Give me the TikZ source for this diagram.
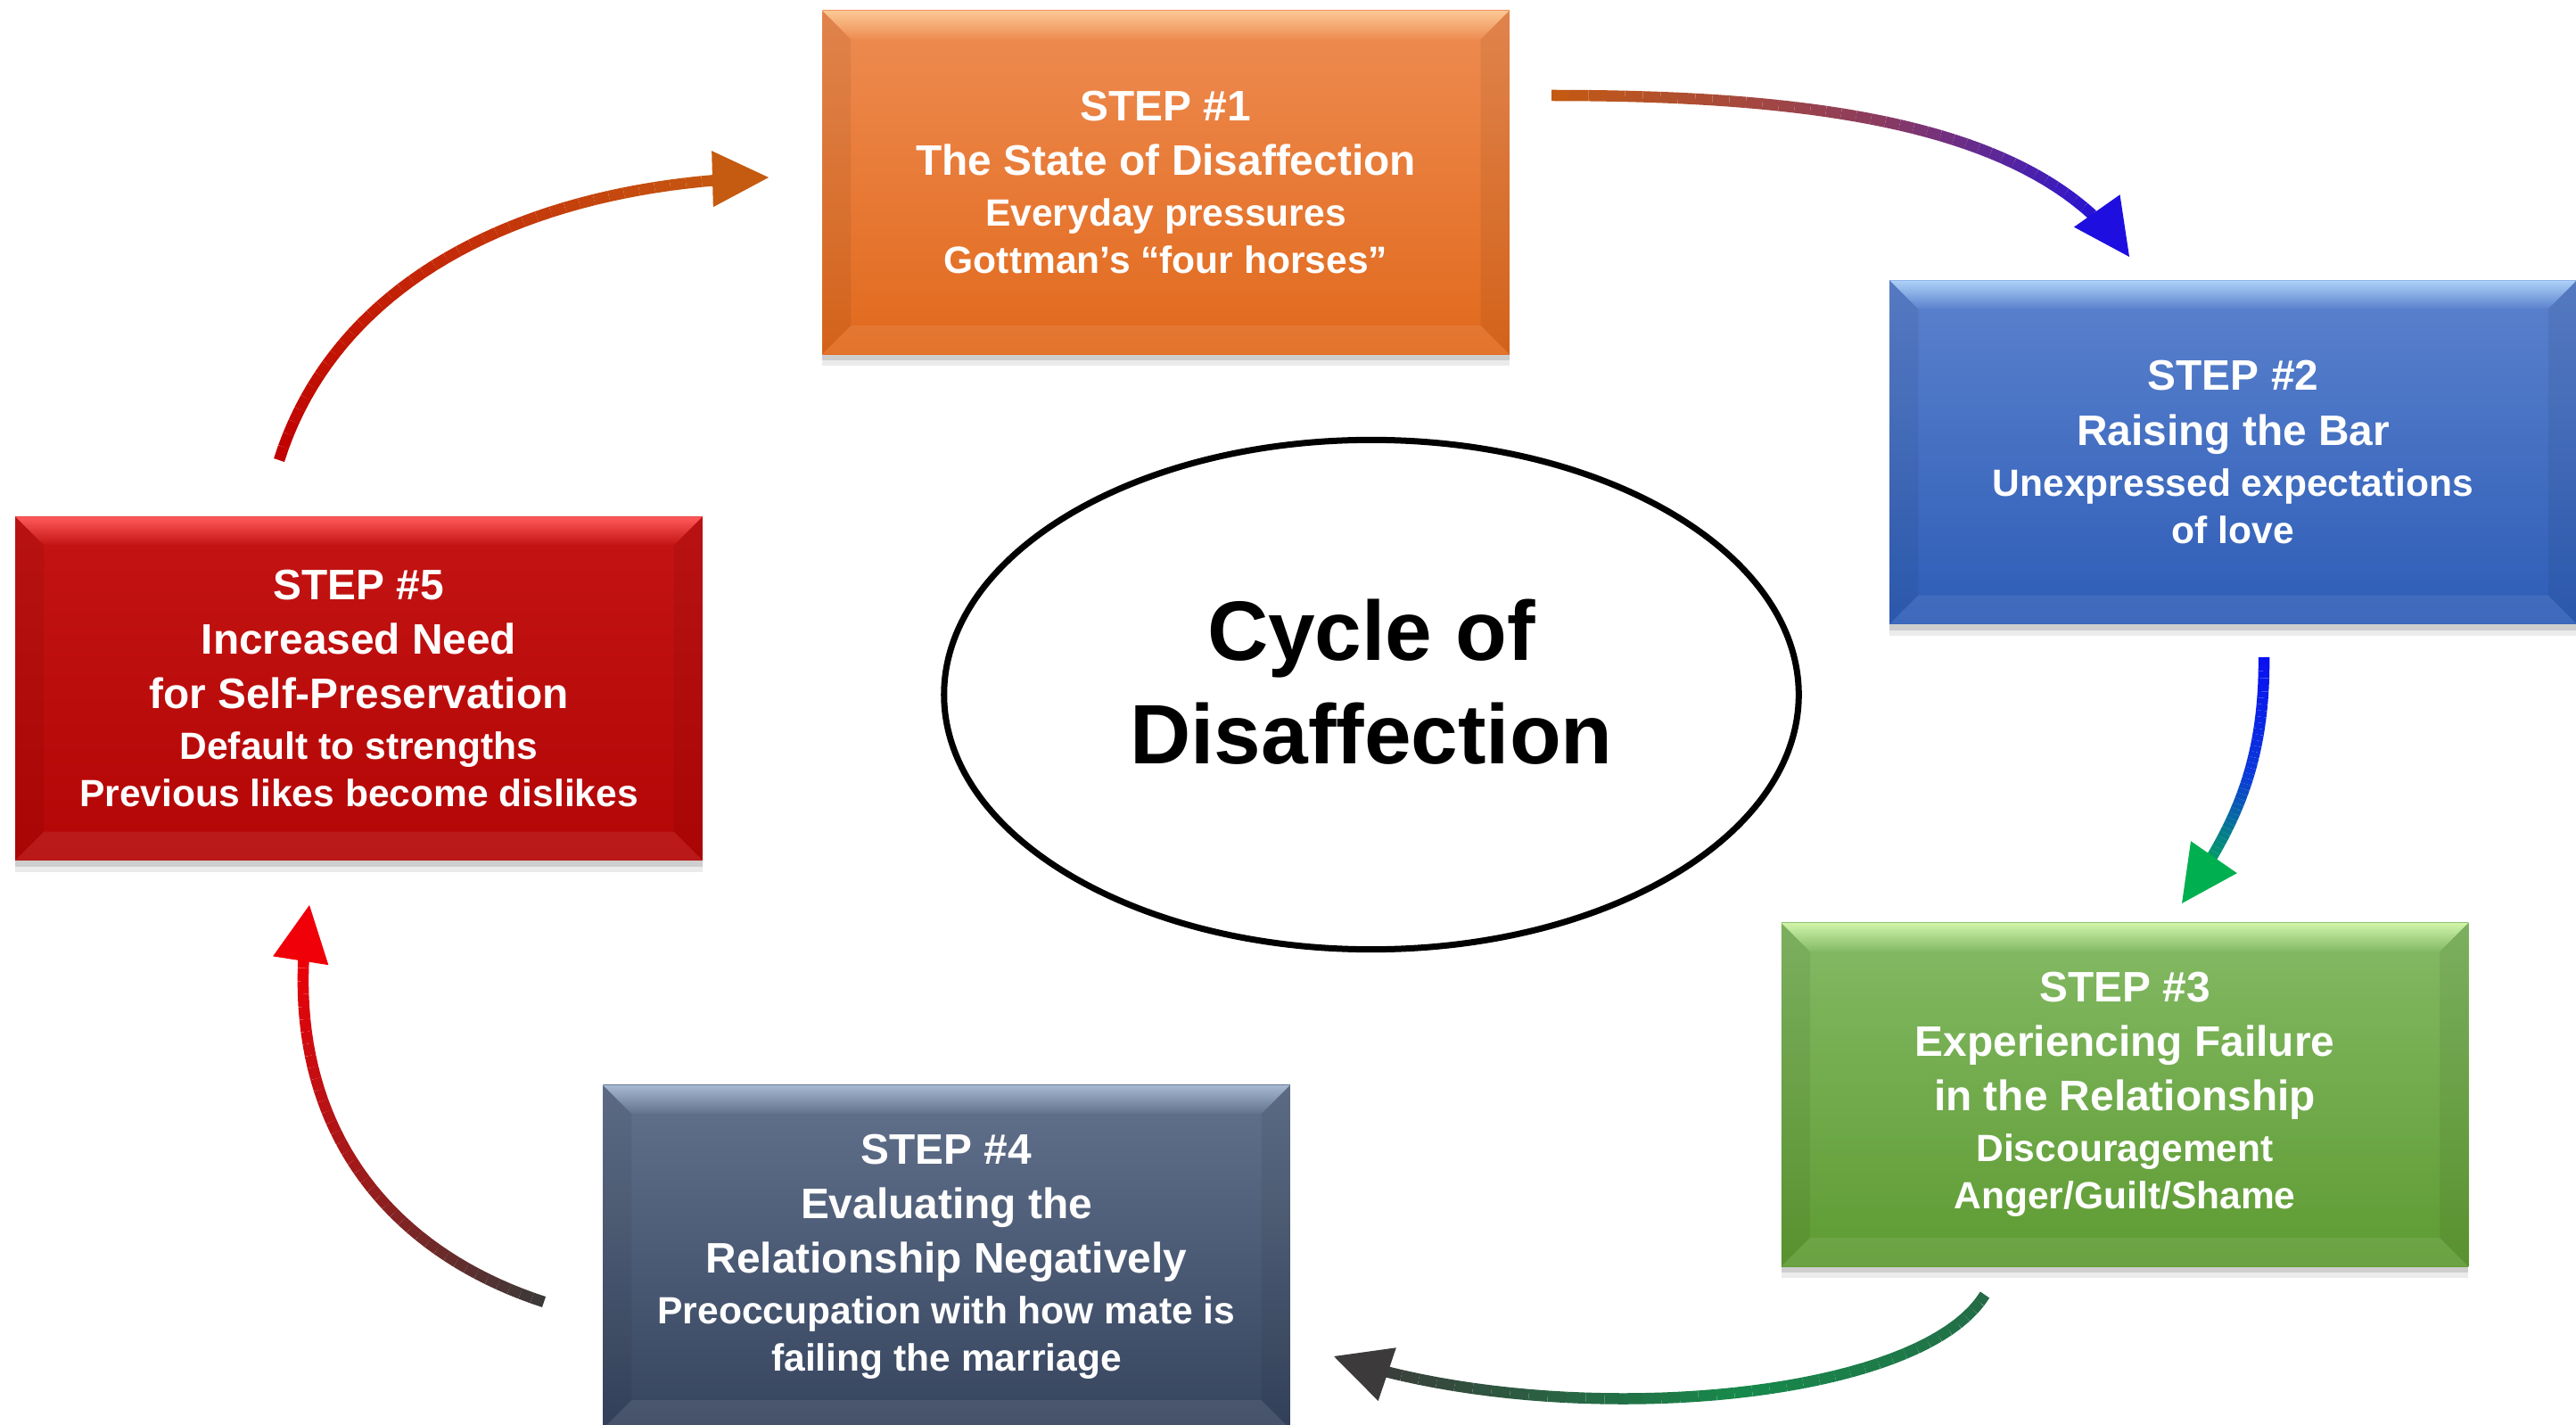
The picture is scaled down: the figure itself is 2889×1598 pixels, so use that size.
\documentclass[tikz,border=0pt]{standalone}
\usepackage{fontspec}
\setmainfont{Liberation Sans}
\usetikzlibrary{arrows.meta,shapes.geometric,calc}

\newcommand{\fsL}{\fontsize{13.6pt}{17.4pt}\selectfont}
\newcommand{\fsS}{\fontsize{12.1pt}{17.4pt}\selectfont}

\definecolor{oT}{HTML}{EE8C52}\definecolor{oB}{HTML}{E1691C}\definecolor{oH}{HTML}{FBC894}
\definecolor{bT}{HTML}{5B82CD}\definecolor{bB}{HTML}{2E5DB7}\definecolor{bH}{HTML}{AED2F8}
\definecolor{gT}{HTML}{84BA65}\definecolor{gB0}{HTML}{5E9B32}\definecolor{gH}{HTML}{D0F4AA}
\definecolor{sT}{HTML}{62728C}\definecolor{sB}{HTML}{36445E}\definecolor{sH}{HTML}{A6B8D2}
\definecolor{rT}{HTML}{C41414}\definecolor{rB}{HTML}{B40606}\definecolor{rH}{HTML}{FF5A5A}

\tikzset{
  bevelbox/.style={rectangle, minimum width=7.70cm, minimum height=3.85cm,
    inner sep=0pt, outer sep=0pt, align=center, text=white,
    font=\bfseries\fsL, fill=bxB,
    preaction={fill=black, opacity=0.08, transform canvas={yshift=-0.13cm}},
    preaction={fill=black, opacity=0.12, transform canvas={yshift=-0.07cm}},
    path picture={
      \path (path picture bounding box.south west) coordinate (bsw)
            (path picture bounding box.north east) coordinate (bne)
            (path picture bounding box.north west) coordinate (bnw)
            (path picture bounding box.south east) coordinate (bse);
      \shade[top color=bxT, bottom color=bxB] (bsw) rectangle (bne);
      \fill[black, opacity=0.06] (bnw) -- ([xshift=0.32cm,yshift=-0.32cm]bnw)
           -- ([xshift=0.32cm,yshift=0.32cm]bsw) -- (bsw) -- cycle;
      \fill[black, opacity=0.06] (bne) -- (bse) -- ([xshift=-0.32cm,yshift=0.32cm]bse)
           -- ([xshift=-0.32cm,yshift=-0.32cm]bne) -- cycle;
      \shade[top color=bxH, bottom color=bxT] (bnw) -- (bne)
           -- ([xshift=-0.32cm,yshift=-0.32cm]bne) -- ([xshift=0.32cm,yshift=-0.32cm]bnw) -- cycle;
      \fill[white, opacity=0.08] (bsw) -- ([xshift=0.32cm,yshift=0.32cm]bsw)
           -- ([xshift=-0.32cm,yshift=0.32cm]bse) -- (bse) -- cycle;
    }},
  orangebox/.style={/utils/exec={\colorlet{bxT}{oT}\colorlet{bxB}{oB}\colorlet{bxH}{oH}}, bevelbox},
  bluebox/.style={/utils/exec={\colorlet{bxT}{bT}\colorlet{bxB}{bB}\colorlet{bxH}{bH}}, bevelbox},
  greenbox/.style={/utils/exec={\colorlet{bxT}{gT}\colorlet{bxB}{gB0}\colorlet{bxH}{gH}}, bevelbox},
  slatebox/.style={/utils/exec={\colorlet{bxT}{sT}\colorlet{bxB}{sB}\colorlet{bxH}{sH}}, bevelbox},
  redbox/.style={/utils/exec={\colorlet{bxT}{rT}\colorlet{bxB}{rB}\colorlet{bxH}{rH}}, bevelbox},
  segline/.style={line width=0.125cm},
}

% gradient arrow along a Bezier: #1..#4 coordinate names, #5 parameter where the line stops (inside the head)
\newcommand{\gradarrow}[5]{%
  \foreach \k in {1,...,40}{%
    \pgfmathsetmacro\ta{#5*(\k-1)/40}%
    \pgfmathsetmacro\tb{#5*\k/40}%
    \pgfmathtruncatemacro\pc{round(200*(\k-0.5)/40)}%
    \ifnum\pc<100 \colorlet{gc}{gM!\pc!gA}\else\pgfmathtruncatemacro\pd{\pc-100}\colorlet{gc}{gB!\pd!gM}\fi
    \path (#1) .. controls (#2) and (#3) .. (#4) coordinate[pos=\ta] (gq) coordinate[pos=\tb] (gr);
    \draw[segline, gc] (gq) -- (gr);
  }%
  \path (#1) .. controls (#2) and (#3) .. (#4) coordinate[pos=0.99] (gw);
  \path ($(#4)!0.63cm!(gw)$) coordinate (gbase);
  \fill[gB] (#4) -- ($(gbase)!0.315cm!90:(#4)$) -- ($(gbase)!0.315cm!-90:(#4)$) -- cycle;
}

\begin{document}
\begin{tikzpicture}[x=0.01cm, y=-0.01cm]
\useasboundingbox (0,0) rectangle (2889,1598);
\clip (0,0) rectangle (2889,1598);
\fill[white] (0,0) rectangle (2889,1598);

% step boxes
\node[orangebox] (s1) at (1307.5,204.5)
  {STEP \#1\\The State of Disaffection\\[-1.2pt]\fsS Everyday pressures\\[-2.3pt]\fsS Gottman’s “four horses”};
\node[bluebox] (s2) at (2504.5,507)
  {STEP \#2\\Raising the Bar\\[-1.2pt]\fsS Unexpressed expectations\\[-2.3pt]\fsS of love};
\node[greenbox] (s3) at (2383,1227.5)
  {STEP \#3\\Experiencing Failure\\in the Relationship\\[-1.2pt]\fsS Discouragement\\[-2.3pt]\fsS Anger/Guilt/Shame};
\node[slatebox] (s4) at (1061.5,1409.5)
  {STEP \#4\\Evaluating the\\Relationship Negatively\\[-1.2pt]\fsS Preoccupation with how mate is\\[-2.3pt]\fsS failing the marriage};
\node[redbox] (s5) at (402.5,772)
  {STEP \#5\\Increased Need\\for Self-Preservation\\[-1.2pt]\fsS Default to strengths\\[-2.3pt]\fsS Previous likes become dislikes};

% centre
\node[ellipse, draw=black, line width=0.07cm, minimum width=9.58cm, minimum height=5.71cm, inner sep=0pt] (core) at (1538,779) {};
\node[font=\bfseries\fontsize{26.9pt}{33pt}\selectfont, align=center] (title) at (1538,765) {Cycle of\\Disaffection};

% arrow 1 -> 2
\coordinate (a0) at (1740,107); \coordinate (a1) at (2040,107);
\coordinate (a2) at (2286,140); \coordinate (a3) at (2388,288);
\definecolor{gA}{HTML}{C55A11}\definecolor{gM}{HTML}{8A3A62}\definecolor{gB}{HTML}{1E0FE0}
\gradarrow{a0}{a1}{a2}{a3}{0.93}

% arrow 2 -> 3
\coordinate (b0) at (2539,737); \coordinate (b1) at (2540,860);
\coordinate (b2) at (2504,931); \coordinate (b3) at (2447,1013);
\definecolor{gA}{HTML}{0A10F2}\definecolor{gM}{HTML}{0A3BD8}\definecolor{gB}{HTML}{00B050}
\gradarrow{b0}{b1}{b2}{b3}{0.87}

% arrow 3 -> 4
\coordinate (c0) at (2226,1452); \coordinate (c1) at (2150,1575);
\coordinate (c2) at (1740,1605); \coordinate (c3) at (1496,1521);
\definecolor{gA}{HTML}{246A46}\definecolor{gM}{HTML}{17894B}\definecolor{gB}{HTML}{3C3A3A}
\gradarrow{c0}{c1}{c2}{c3}{0.95}

% arrow 4 -> 5
\coordinate (d0) at (610,1460); \coordinate (d1) at (420,1398);
\coordinate (d2) at (310,1242); \coordinate (d3) at (347,1015);
\definecolor{gA}{HTML}{3A3A3A}\definecolor{gM}{HTML}{A01A1A}\definecolor{gB}{HTML}{F00008}
\gradarrow{d0}{d1}{d2}{d3}{0.94}

% arrow 5 -> 1
\coordinate (e0) at (313,516); \coordinate (e1) at (379,307);
\coordinate (e2) at (602,205); \coordinate (e3) at (862,199);
\definecolor{gA}{HTML}{C00000}\definecolor{gM}{HTML}{C42A08}\definecolor{gB}{HTML}{C55A11}
\gradarrow{e0}{e1}{e2}{e3}{0.95}
\end{tikzpicture}
\end{document}
